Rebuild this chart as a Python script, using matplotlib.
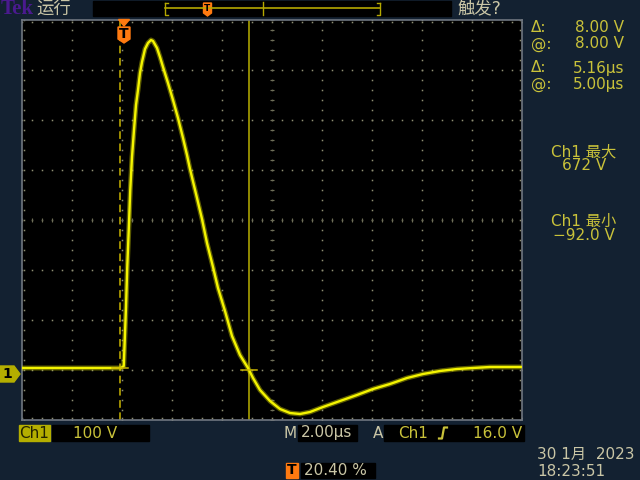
import matplotlib
matplotlib.use("Agg")
import matplotlib.pyplot as plt
from matplotlib.patches import Rectangle, Polygon
import numpy as np

plt.rcParams['font.family'] = ['DejaVu Sans', 'Noto Sans CJK SC']

# ---- data (time in microseconds, voltage in volts) ----
time_us = [-4.08, -2.56, -0.96, -0.12, -0.01, 0.03, 0.08, 0.13, 0.19, 0.25, 0.32,
           0.40, 0.48, 0.56, 0.64, 0.72, 0.84, 0.96, 1.08, 1.16, 1.32, 1.44, 1.56,
           1.76, 1.96, 2.16, 2.36, 2.52, 2.64, 2.92, 3.12, 3.32, 3.56, 3.76, 4.04,
           4.32, 4.64, 4.96, 5.16, 5.44, 5.84, 6.24, 6.64, 7.04, 7.44, 7.96, 8.64,
           9.32, 9.96, 10.64, 11.32, 11.96, 12.64, 13.32, 13.96, 14.64, 15.32, 15.90]
volts = [12, 12, 12, 12, 16, 68, 134, 214, 288, 368, 434,
         488, 538, 568, 602, 624, 650, 662, 668, 666, 652, 634, 614,
         582, 548, 512, 472, 438, 410, 352, 310, 262, 214, 172, 126,
         76, 38, 12, -8, -32, -54, -70, -78, -80, -76, -66, -54,
         -42, -30, -20, -8, 0, 6, 10, 12, 14, 14, 14]

volts_per_div = 100
time_per_div = 2.0
trigger_pos = 0.204
ground_offset_div = 0.92
cursor_t = [-0.16, 5.00]
cursor_v = [12, 8]

meas_labels = ["Δ:", "@:", "Δ:", "@:"]
meas_values = ["8.00 V", "8.00 V", "5.16µs", "5.00µs"]
max_label, max_value = "Ch1 最大", "672 V"
min_label, min_value = "Ch1 最小", "−92.0 V"

t0 = -trigger_pos * 10 * time_per_div
t1 = t0 + 10 * time_per_div
v0 = -ground_offset_div * volts_per_div
v1 = v0 + 8 * volts_per_div

BG = '#132131'
TXT = '#c9c23a'
PALE = '#cac6a6'
GRID = '#8e8e72'

fig = plt.figure(figsize=(6.4, 4.8), dpi=100, facecolor=BG)
L, R, T, B = 22, 522, 20, 420
ax = fig.add_axes([L/640, 1 - B/480, (R-L)/640, (B-T)/480], zorder=1)
ax.set_facecolor('black')
ax.set_xlim(t0, t1)
ax.set_ylim(v0, v1)
ax.set_xticks([]); ax.set_yticks([])
for s in ax.spines.values():
    s.set_color('#6f7680'); s.set_linewidth(1.2)

# grid dots
xs_div = [t0 + k*time_per_div for k in range(11)]
ys_div = [v0 + j*volts_per_div for j in range(9)]
fine_t = np.arange(0, 51) * (time_per_div/5) + t0
fine_v = np.arange(0, 41) * (volts_per_div/5) + v0
gx, gy = [], []
for k in range(1, 10):
    gx += [xs_div[k]] * len(fine_v); gy += list(fine_v)
for j in range(1, 8):
    gx += list(fine_t); gy += [ys_div[j]] * len(fine_t)
# edges
edge_off_t = (t1 - t0) * 0.004
edge_off_v = (v1 - v0) * 0.005
gx += [t0 + edge_off_t] * len(fine_v) + [t1 - edge_off_t] * len(fine_v)
gy += list(fine_v) * 2
gx += list(fine_t) * 2
gy += [v0 + edge_off_v] * len(fine_t) + [v1 - edge_off_v] * len(fine_t)
ax.plot(gx, gy, ls='none', marker='s', ms=1.1, mec='none', mfc=GRID, zorder=1)
# center line ticks (subtle)
ax.plot([xs_div[5]] * len(fine_v), fine_v, ls='none', marker='_', ms=3.2, mew=0.8, color='#6e6e58', zorder=1)
ax.plot(fine_t, [ys_div[4]] * len(fine_t), ls='none', marker='|', ms=3.2, mew=0.8, color='#6e6e58', zorder=1)

# cursors
ax.axvline(cursor_t[0], color='#c8b400', lw=1.1, ls=(0, (5, 3)), zorder=2)
ax.axvline(cursor_t[1], color='#b9b000', lw=1.1, zorder=2)

# waveform
ax.plot(time_us, volts, color='#c8c800', lw=3.6, alpha=0.45, solid_capstyle='butt', zorder=3)
ax.plot(time_us, volts, color='#f4f400', lw=1.7, zorder=4)

# cursor cross ticks
dt = 0.32
for ct, cv in zip(cursor_t, cursor_v):
    ax.plot([ct - dt, ct + dt], [cv, cv], color='#c8b400', lw=1.1, zorder=5)

# ---- overlay in pixel coordinates ----
ov = fig.add_axes([0, 0, 1, 1], zorder=2)
ov.set_xlim(0, 640); ov.set_ylim(480, 0); ov.axis('off')
ov.patch.set_alpha(0)

def t2px(t):
    return L + (t - t0) / (t1 - t0) * (R - L)

def v2py(v):
    return B - (v - v0) / (v1 - v0) * (B - T)

# trigger marker
tx = t2px(0)
ov.add_patch(Polygon([[tx-5.5, 19.5], [tx+5.5, 19.5], [tx, 26]], closed=True, color='#ff7a10'))
ov.add_patch(Polygon([[tx-6, 27], [tx+6, 27], [tx+6, 39], [tx, 43], [tx-6, 39]], closed=True, color='#ff7a10'))
ov.text(tx, 34.5, "T", color='black', fontsize=10, fontweight='bold', ha='center', va='center')

# ground marker
gy_px = v2py(0)
ov.add_patch(Polygon([[0, gy_px-8], [14, gy_px-8], [20, gy_px], [14, gy_px+8], [0, gy_px+8]],
                     closed=True, color='#b4ae00'))
ov.text(7, gy_px, "1", color='black', fontsize=10, fontweight='bold', ha='center', va='center')

# top bar
ov.text(1, 9, "Tek", color='#4a1a8e', fontsize=15, fontweight='bold', family='Liberation Serif',
        ha='left', va='center')
ov.text(36, 9, "运行", color=PALE, fontsize=12.5, ha='left', va='center')
ov.add_patch(Rectangle((93, 1), 358, 15, color='black'))
bc = '#b4a800'
ov.plot([165, 380], [8, 8], color=bc, lw=1.2)
ov.plot([165, 165, 168], [2.5, 14.5, 14.5], color=bc, lw=1)
ov.plot([165, 168], [2.5, 2.5], color=bc, lw=1)
ov.plot([380, 380, 377], [2.5, 14.5, 14.5], color=bc, lw=1)
ov.plot([380, 377], [2.5, 2.5], color=bc, lw=1)
ov.plot([263, 263], [2, 15], color=bc, lw=1)
ov.add_patch(Polygon([[203.5, 3], [211.5, 3], [211.5, 13], [207.5, 16], [203.5, 13]], closed=True, color='#ff7a10'))
ov.text(207.5, 8.5, "T", color='black', fontsize=6.5, fontweight='bold', ha='center', va='center')
ov.text(457, 8, "触发?", color=PALE, fontsize=12.5, ha='left', va='center')

# right measurement panel
for i, (lab, val) in enumerate(zip(meas_labels, meas_values)):
    y = [28, 44, 68, 84][i]
    ov.text(531, y, lab, color=TXT, fontsize=11, ha='left', va='center')
    ov.text(624, y, val, color=TXT, fontsize=11, ha='right', va='center')
ov.text(584, 152, max_label, color=TXT, fontsize=11, ha='center', va='center')
ov.text(584, 166, max_value, color=TXT, fontsize=11, ha='center', va='center')
ov.text(584, 221, min_label, color=TXT, fontsize=11, ha='center', va='center')
ov.text(584, 236, min_value, color=TXT, fontsize=11, ha='center', va='center')

# bottom bar
ov.add_patch(Rectangle((19, 425), 31, 16, color='#b4ae00'))
ov.text(34.5, 433, "Ch1", color='#222200', fontsize=11, ha='center', va='center')
ov.add_patch(Rectangle((52, 425), 97, 16, color='black'))
ov.text(95, 433, "100 V", color=TXT, fontsize=11, ha='center', va='center')
ov.text(290, 433, "M", color=PALE, fontsize=11, ha='center', va='center')
ov.add_patch(Rectangle((298, 425), 59, 16, color='black'))
ov.text(327, 433, "2.00µs", color=PALE, fontsize=11, ha='center', va='center')
ov.text(378, 433, "A", color=PALE, fontsize=11, ha='center', va='center')
ov.add_patch(Rectangle((384, 425), 140, 16, color='black'))
ov.text(398, 433, "Ch1", color=TXT, fontsize=11, ha='left', va='center')
ov.plot([439, 442, 444, 447], [438.5, 438.5, 427.5, 427.5], color=TXT, lw=1.6)
ov.text(522, 433, "16.0 V", color=TXT, fontsize=11, ha='right', va='center')

ov.add_patch(Rectangle((286, 463), 12, 15, color='#ff7a10'))
ov.text(292, 470.5, "T", color='black', fontsize=10, fontweight='bold', ha='center', va='center')
ov.add_patch(Rectangle((301, 463), 74, 15, color='black'))
ov.text(304, 470.5, "20.40 %", color=PALE, fontsize=11, ha='left', va='center')

ov.text(537, 454, "30 1月  2023", color=PALE, fontsize=11, ha='left', va='center')
ov.text(537, 471, "18:23:51", color=PALE, fontsize=11, ha='left', va='center')

fig.savefig("out.png", dpi=100, facecolor=BG)
